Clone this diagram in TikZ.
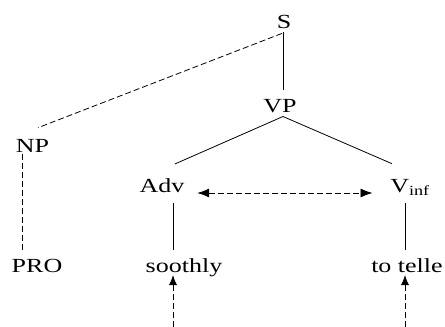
\documentclass[tikz,border=0pt]{standalone}
\usepackage{fontspec}
\setmainfont{Liberation Serif}[FakeStretch=1.3]
\usetikzlibrary{arrows.meta,calc}
\begin{document}
\begin{tikzpicture}[x=1pt,y=-1pt,
  lbl/.style={inner sep=0pt, font=\fontsize{20}{24}\selectfont, anchor=base},
  conn/.style={line width=0.8pt},
  dsh/.style={conn, dash pattern=on 6pt off 3pt},
  uptip/.style={-{Latex[length=10pt,width=8pt]}},
  bothtip/.style={{Latex[length=12pt,width=9pt]}-{Latex[length=12pt,width=9pt]}}]
\useasboundingbox (0,0) rectangle (445,327);
\node[lbl] (S) at (284,28) {S};
\node[lbl] (VP) at (280,112) {VP};
\node[lbl] (NP) at (32.5,152) {NP};
\node[lbl] (Adv) at (162,192) {Adv};
\node[lbl] (Vinf) at (410,192) {V\textsubscript{inf}};
\node[lbl] (PRO) at (37,272) {PRO};
\node[lbl] (soothly) at (184,272) {soothly};
\node[lbl] (telle) at (407,272) {to telle};
\coordinate (b1) at (173,327);
\coordinate (b2) at (405,327);
\draw[conn] ($(S.south)+(-1,4)$) -- ($(VP.north)+(3,-9)$);
\draw[dsh] ($(S.south)+(-2,5)$) -- ($(NP.north)+(5.5,-11)$);
\draw[conn] ($(VP.south)+(3,4)$) -- ($(Adv.north)+(13,-14)$);
\draw[conn] ($(VP.south)+(3,4)$) -- ($(Vinf.north)+(-18,-15)$);
\draw[dsh,bothtip] ($(Adv.base east)+(12.6,1)$) -- ($(Vinf.base west)+(-17.5,1)$);
\draw[conn] ($(Adv.base)+(11,11)$) -- ($(soothly.base)+(-11,-22)$);
\draw[conn] ($(Vinf.base)+(-5,11)$) -- ($(telle.base)+(-2,-22)$);
\draw[dsh] ($(NP.base)+(-10.5,2)$) -- ($(PRO.base)+(-15,-22)$);
\draw[dsh,uptip] (b1) -- ($(soothly.base)+(-11,3)$);
\draw[dsh,uptip] (b2) -- ($(telle.base)+(-2,3)$);
\end{tikzpicture}
\end{document}
